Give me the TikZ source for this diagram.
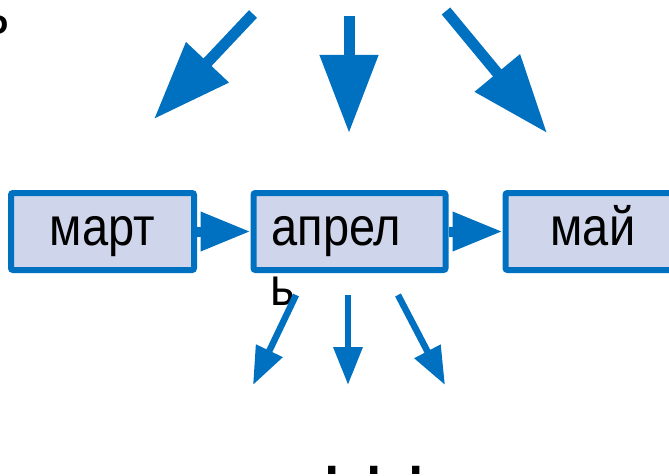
\documentclass[tikz,border=0pt]{standalone}
\usepackage{fontspec}
\setmainfont[FakeStretch=0.87]{Liberation Sans}
\newfontfamily\plainsans{Liberation Sans}
\usetikzlibrary{arrows.meta}
\definecolor{pblue}{HTML}{0070C0}
\definecolor{pfill}{HTML}{CFD5EA}
\begin{document}
\begin{tikzpicture}[x=1pt,y=-1pt]
 \tikzstyle{month}=[draw=pblue,fill=pfill,line width=6pt,rounded corners=2pt,
 minimum height=77pt,text height=28pt,text depth=0pt,font=\fontsize{54}{64}\selectfont]
 \tikzstyle{bigarrow}=[pblue,line width=11pt,-{Triangle[length=78pt,width=56pt]}]
 \tikzstyle{smallarrow}=[pblue,line width=6.5pt,-{Triangle[length=38pt,width=28pt]}]
 \tikzstyle{linkarrow}=[pblue,line width=10pt,-{Triangle[length=50pt,width=37pt]}]
\useasboundingbox (0,0) rectangle (669,476);
\node[anchor=base west,inner sep=0pt,font=\fontsize{62}{64}\selectfont] (cut) at (-19,35) {ь};
\node[month,minimum width=183pt] (mart) at (102.5,231.5) {март};
\node[month,minimum width=192pt,text width=156pt,inner xsep=18pt,align=left] (aprel) at (349.5,231.5) {апрел};
\node[month,minimum width=175pt] (maj) at (593,231.5) {май};
\node[anchor=base west,inner sep=0pt,font=\fontsize{54}{64}\selectfont] (soft) at (270,305) {ь};
\draw[linkarrow] (mart) -- (aprel);
\draw[linkarrow] (aprel) -- (maj);
\coordinate (tl) at (253,14);
\coordinate (tle) at (154,119);
\coordinate (tm) at (349,16);
\coordinate (tme) at (349,133);
\coordinate (tr) at (446,11);
\coordinate (tre) at (547,133);
\draw[bigarrow] (tl) -- (tle);
\draw[bigarrow] (tm) -- (tme);
\draw[bigarrow] (tr) -- (tre);
\coordinate (bl) at (296,295);
\coordinate (ble) at (253,385);
\coordinate (bm) at (348,295);
\coordinate (bme) at (348,385);
\coordinate (br) at (398,295);
\coordinate (bre) at (445,385);
\draw[smallarrow] (bl) -- (ble);
\draw[smallarrow] (bm) -- (bme);
\draw[smallarrow] (br) -- (bre);
\node[anchor=base west,inner sep=0pt,font=\plainsans\fontsize{77}{80}\selectfont] (dots) at (321,474) {.\hspace{21pt}.\hspace{21pt}.};
\end{tikzpicture}
\end{document}
